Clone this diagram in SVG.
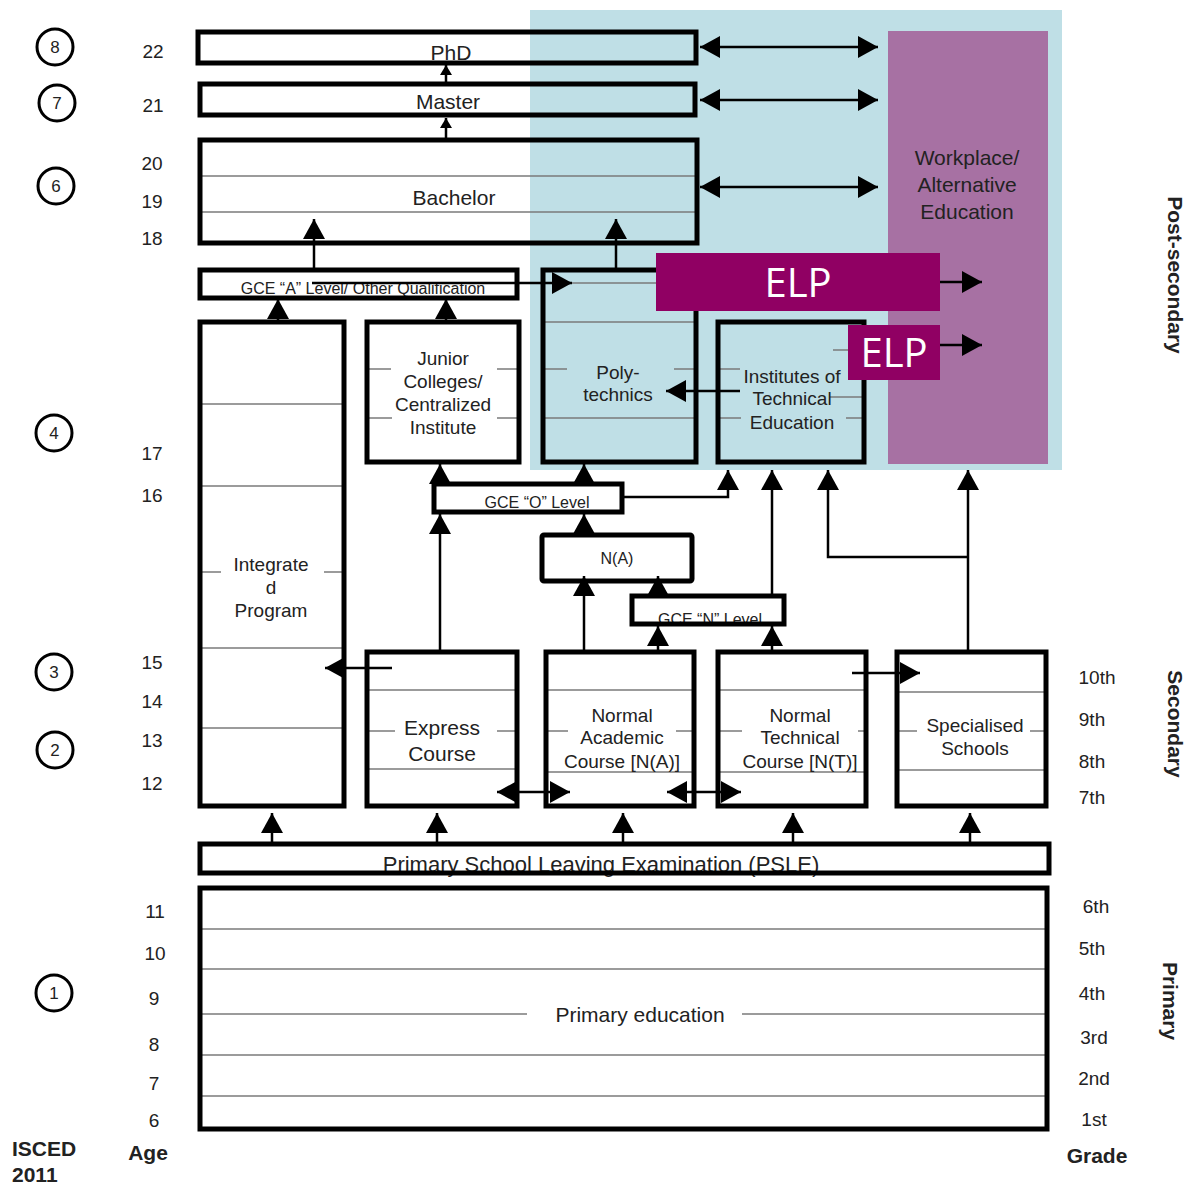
<svg xmlns="http://www.w3.org/2000/svg" width="1190" height="1185" viewBox="0 0 1190 1185">
<style>
text{font-family:"Liberation Sans",Arial,sans-serif;fill:#222}
.box{fill:none;stroke:#000;stroke-width:5}
.thin{stroke:#7a7a7a;stroke-width:1.5;fill:none}
.c{stroke:#000;stroke-width:2.5;fill:none}
.t19{font-size:19px;text-anchor:middle}
.t21{font-size:21px;text-anchor:middle}
.t16{font-size:16px;text-anchor:middle}
.age{font-size:19px;text-anchor:middle}
.bold{font-weight:bold;font-size:21px}
.isc{fill:#fff;stroke:#000;stroke-width:3}
.elp{font-family:"Open Sans","Liberation Sans",sans-serif;font-size:40px;fill:#fff;text-anchor:middle}
</style>
<defs>
<marker id="ah" viewBox="0 0 20 22" refX="20" refY="11" markerWidth="20" markerHeight="22" markerUnits="userSpaceOnUse" orient="auto-start-reverse"><path d="M0,0 L20,11 L0,22 z" fill="#000"/></marker>
<marker id="ahs" viewBox="0 0 10 12" refX="10" refY="6" markerWidth="10" markerHeight="12" markerUnits="userSpaceOnUse" orient="auto-start-reverse"><path d="M0,0 L10,6 L0,12 z" fill="#000"/></marker>
</defs>
<rect width="1190" height="1185" fill="#fff"/>
<g id="post-secondary-bg">
<rect x="530" y="10" width="532" height="460" fill="#bfdfe6"/>
</g>
<g id="workplace">
<rect x="888" y="31" width="160" height="433" fill="#a771a3"/>
<text class="t21" x="967" y="165">Workplace/</text>
<text class="t21" x="967" y="192">Alternative</text>
<text class="t21" x="967" y="219">Education</text>
</g>
<g id="isced">
<circle class="isc" cx="55" cy="47" r="18"/><text x="55" y="53" font-size="17" text-anchor="middle">8</text>
<circle class="isc" cx="57" cy="103" r="18"/><text x="57" y="109" font-size="17" text-anchor="middle">7</text>
<circle class="isc" cx="56" cy="186" r="18"/><text x="56" y="192" font-size="17" text-anchor="middle">6</text>
<circle class="isc" cx="54" cy="433" r="18"/><text x="54" y="439" font-size="17" text-anchor="middle">4</text>
<circle class="isc" cx="54" cy="672" r="18"/><text x="54" y="678" font-size="17" text-anchor="middle">3</text>
<circle class="isc" cx="55" cy="750" r="18"/><text x="55" y="756" font-size="17" text-anchor="middle">2</text>
<circle class="isc" cx="54" cy="993" r="18"/><text x="54" y="999" font-size="17" text-anchor="middle">1</text>
<text class="bold" x="12" y="1156">ISCED</text>
<text class="bold" x="12" y="1182">2011</text>
</g>
<g id="ages">
<text class="age" x="153" y="58">22</text>
<text class="age" x="153" y="112">21</text>
<text class="age" x="152" y="170">20</text>
<text class="age" x="152" y="208">19</text>
<text class="age" x="152" y="245">18</text>
<text class="age" x="152" y="460">17</text>
<text class="age" x="152" y="502">16</text>
<text class="age" x="152" y="669">15</text>
<text class="age" x="152" y="708">14</text>
<text class="age" x="152" y="747">13</text>
<text class="age" x="152" y="790">12</text>
<text class="age" x="155" y="918">11</text>
<text class="age" x="155" y="960">10</text>
<text class="age" x="154" y="1005">9</text>
<text class="age" x="154" y="1051">8</text>
<text class="age" x="154" y="1090">7</text>
<text class="age" x="154" y="1127">6</text>
<text class="bold" x="148" y="1160" text-anchor="middle">Age</text>
</g>
<g id="grades">
<text class="age" x="1097" y="684">10th</text>
<text class="age" x="1092" y="726">9th</text>
<text class="age" x="1092" y="768">8th</text>
<text class="age" x="1092" y="804">7th</text>
<text class="age" x="1096" y="913">6th</text>
<text class="age" x="1092" y="955">5th</text>
<text class="age" x="1092" y="1000">4th</text>
<text class="age" x="1094" y="1044">3rd</text>
<text class="age" x="1094" y="1085">2nd</text>
<text class="age" x="1094" y="1126">1st</text>
<text class="bold" x="1097" y="1163" text-anchor="middle">Grade</text>
</g>
<g id="levels">
<text class="bold" font-size="22" text-anchor="middle" transform="translate(1168,275) rotate(90)">Post-secondary</text>
<text class="bold" font-size="22" text-anchor="middle" transform="translate(1168,724) rotate(90)">Secondary</text>
<text class="bold" font-size="22" text-anchor="middle" transform="translate(1163,1001) rotate(90)">Primary</text>
</g>
<g id="phd">
<text class="t21" x="451" y="60">PhD</text>
<rect class="box" x="198" y="32" width="498" height="31"/>
</g>
<g id="master">
<text class="t21" x="448" y="109">Master</text>
<rect class="box" x="200" y="84" width="495" height="31"/>
</g>
<g id="bachelor">
<line class="thin" x1="200" y1="176" x2="697" y2="176"/>
<line class="thin" x1="200" y1="212" x2="697" y2="212"/>
<text class="t21" x="454" y="205">Bachelor</text>
<rect class="box" x="200" y="140" width="497" height="103"/>
</g>
<g id="gce-a">
<text class="t16" x="363" y="294">GCE “A” Level/ Other Qualification</text>
<rect class="box" x="200" y="270" width="317" height="28" stroke-width="4"/>
</g>
<g id="integrated">
<line class="thin" x1="200" y1="404" x2="344" y2="404"/>
<line class="thin" x1="200" y1="486" x2="344" y2="486"/>
<line class="thin" x1="200" y1="648" x2="344" y2="648"/>
<line class="thin" x1="200" y1="728" x2="344" y2="728"/>
<line class="thin" x1="200" y1="572" x2="221" y2="572"/>
<line class="thin" x1="324" y1="572" x2="344" y2="572"/>
<text class="t19" x="271" y="571">Integrate</text>
<text class="t19" x="271" y="594">d</text>
<text class="t19" x="271" y="617">Program</text>
<rect class="box" x="200" y="322" width="144" height="484"/>
</g>
<g id="junior-colleges">
<line class="thin" x1="367" y1="369" x2="391" y2="369"/>
<line class="thin" x1="497" y1="369" x2="519" y2="369"/>
<line class="thin" x1="367" y1="418" x2="392" y2="418"/>
<line class="thin" x1="497" y1="418" x2="519" y2="418"/>
<text class="t19" x="443" y="365">Junior</text>
<text class="t19" x="443" y="388">Colleges/</text>
<text class="t19" x="443" y="411">Centralized</text>
<text class="t19" x="443" y="434">Institute</text>
<rect class="box" x="367" y="322" width="152" height="140"/>
</g>
<g id="polytechnics">
<line class="thin" x1="543" y1="322" x2="696" y2="322"/>
<line class="thin" x1="543" y1="418" x2="696" y2="418"/>
<line class="thin" x1="543" y1="369" x2="567" y2="369"/>
<line class="thin" x1="674" y1="369" x2="696" y2="369"/>
<text class="t19" x="618" y="379">Poly-</text>
<text class="t19" x="618" y="401">technics</text>
<rect class="box" x="543" y="270" width="153" height="192"/>
</g>
<g id="ite">
<line class="thin" x1="718" y1="369" x2="740" y2="369"/>
<line class="thin" x1="718" y1="418" x2="741" y2="418"/>
<line class="thin" x1="830" y1="397" x2="864" y2="397"/>
<line class="thin" x1="846" y1="418" x2="864" y2="418"/>
<text class="t19" x="792" y="383">Institutes of</text>
<text class="t19" x="792" y="405">Technical</text>
<text class="t19" x="792" y="429">Education</text>
<rect class="box" x="718" y="322" width="146" height="140"/>
</g>
<g id="gce-o">
<text class="t16" x="537" y="508">GCE “O” Level</text>
<rect class="box" x="434" y="484" width="188" height="28" stroke-width="4"/>
</g>
<g id="na">
<text class="t16" x="617" y="564" font-size="15">N(A)</text>
<rect class="box" x="542" y="535" width="150" height="46" rx="2"/>
</g>
<g id="gce-n">
<text class="t16" x="710" y="625">GCE “N” Level</text>
<rect class="box" x="632" y="596" width="152" height="28" stroke-width="4"/>
</g>
<g id="express">
<line class="thin" x1="367" y1="690" x2="517" y2="690"/>
<line class="thin" x1="367" y1="769" x2="517" y2="769"/>
<line class="thin" x1="367" y1="731" x2="395" y2="731"/>
<line class="thin" x1="497" y1="731" x2="517" y2="731"/>
<text class="t21" x="442" y="735">Express</text>
<text class="t21" x="442" y="761">Course</text>
<rect class="box" x="367" y="652" width="150" height="154"/>
</g>
<g id="normal-academic">
<line class="thin" x1="546" y1="690" x2="694" y2="690"/>
<line class="thin" x1="546" y1="772" x2="694" y2="772"/>
<line class="thin" x1="546" y1="731" x2="568" y2="731"/>
<line class="thin" x1="676" y1="731" x2="694" y2="731"/>
<text class="t19" x="622" y="722">Normal</text>
<text class="t19" x="622" y="744">Academic</text>
<text class="t19" x="622" y="768">Course [N(A)]</text>
<rect class="box" x="546" y="652" width="148" height="154"/>
</g>
<g id="normal-technical">
<line class="thin" x1="718" y1="690" x2="866" y2="690"/>
<line class="thin" x1="718" y1="772" x2="866" y2="772"/>
<line class="thin" x1="718" y1="731" x2="742" y2="731"/>
<line class="thin" x1="858" y1="731" x2="866" y2="731"/>
<text class="t19" x="800" y="722">Normal</text>
<text class="t19" x="800" y="744">Technical</text>
<text class="t19" x="800" y="768">Course [N(T)]</text>
<rect class="box" x="718" y="652" width="148" height="154"/>
</g>
<g id="specialised">
<line class="thin" x1="897" y1="692" x2="1046" y2="692"/>
<line class="thin" x1="897" y1="770" x2="1046" y2="770"/>
<line class="thin" x1="897" y1="731" x2="917" y2="731"/>
<line class="thin" x1="1030" y1="731" x2="1046" y2="731"/>
<text class="t19" x="975" y="732">Specialised</text>
<text class="t19" x="975" y="755">Schools</text>
<rect class="box" x="897" y="652" width="149" height="154"/>
</g>
<g id="psle">
<text x="601" y="872" font-size="22" text-anchor="middle">Primary School Leaving Examination (PSLE)</text>
<rect class="box" x="200" y="844" width="849" height="29"/>
</g>
<g id="primary">
<line class="thin" x1="200" y1="929" x2="1047" y2="929"/>
<line class="thin" x1="200" y1="969" x2="1047" y2="969"/>
<line class="thin" x1="200" y1="1014" x2="527" y2="1014"/>
<line class="thin" x1="742" y1="1014" x2="1047" y2="1014"/>
<line class="thin" x1="200" y1="1055" x2="1047" y2="1055"/>
<line class="thin" x1="200" y1="1096" x2="1047" y2="1096"/>
<text class="t21" x="640" y="1022">Primary education</text>
<rect class="box" x="200" y="888" width="847" height="241"/>
</g>
<g id="connectors">
<line class="c" x1="446" y1="84" x2="446" y2="65" marker-end="url(#ahs)"/>
<line class="c" x1="446" y1="140" x2="446" y2="118" marker-end="url(#ahs)"/>
<line class="c" x1="314" y1="270" x2="314" y2="219" marker-end="url(#ah)"/>
<line class="c" x1="616" y1="270" x2="616" y2="219" marker-end="url(#ah)"/>
<line class="c" x1="700" y1="47" x2="878" y2="47" marker-start="url(#ah)" marker-end="url(#ah)"/>
<line class="c" x1="700" y1="100" x2="878" y2="100" marker-start="url(#ah)" marker-end="url(#ah)"/>
<line class="c" x1="700" y1="187" x2="878" y2="187" marker-start="url(#ah)" marker-end="url(#ah)"/>
<line class="c" x1="278" y1="321" x2="278" y2="299" marker-end="url(#ah)"/>
<line class="c" x1="446" y1="321" x2="446" y2="299" marker-end="url(#ah)"/>
<line class="c" x1="312" y1="283" x2="572" y2="283" stroke-width="2" marker-end="url(#ah)"/>
<line class="thin" x1="572" y1="283" x2="658" y2="283"/>
<line class="c" x1="740" y1="391" x2="666" y2="391" marker-end="url(#ah)"/>
<line class="thin" x1="833" y1="350" x2="850" y2="350"/>
<line class="c" x1="940" y1="282" x2="982" y2="282" marker-end="url(#ah)"/>
<line class="c" x1="940" y1="345" x2="982" y2="345" marker-end="url(#ah)"/>
<line class="c" x1="440" y1="484" x2="440" y2="464" marker-end="url(#ah)"/>
<line class="c" x1="584" y1="484" x2="584" y2="464" marker-end="url(#ah)"/>
<polyline class="c" points="624,497 728,497 728,470" marker-end="url(#ah)"/>
<line class="c" x1="772" y1="596" x2="772" y2="470" marker-end="url(#ah)"/>
<line class="c" x1="968" y1="650" x2="968" y2="470" marker-end="url(#ah)"/>
<polyline class="c" points="968,557 828,557 828,470" marker-end="url(#ah)"/>
<line class="c" x1="440" y1="650" x2="440" y2="514" marker-end="url(#ah)"/>
<line class="c" x1="584" y1="535" x2="584" y2="514" marker-end="url(#ah)"/>
<line class="c" x1="584" y1="650" x2="584" y2="576" marker-end="url(#ah)"/>
<line class="c" x1="658" y1="596" x2="658" y2="576" marker-end="url(#ah)"/>
<line class="c" x1="658" y1="650" x2="658" y2="626" marker-end="url(#ah)"/>
<line class="c" x1="772" y1="650" x2="772" y2="626" marker-end="url(#ah)"/>
<line class="c" x1="392" y1="668" x2="325" y2="668" marker-end="url(#ah)"/>
<line class="c" x1="852" y1="673" x2="920" y2="673" marker-end="url(#ah)"/>
<line class="c" x1="497" y1="792" x2="570" y2="792" marker-start="url(#ah)" marker-end="url(#ah)"/>
<line class="c" x1="667" y1="792" x2="741" y2="792" marker-start="url(#ah)" marker-end="url(#ah)"/>
<line class="c" x1="272" y1="844" x2="272" y2="813" marker-end="url(#ah)"/>
<line class="c" x1="437" y1="844" x2="437" y2="813" marker-end="url(#ah)"/>
<line class="c" x1="623" y1="844" x2="623" y2="813" marker-end="url(#ah)"/>
<line class="c" x1="793" y1="844" x2="793" y2="813" marker-end="url(#ah)"/>
<line class="c" x1="970" y1="844" x2="970" y2="813" marker-end="url(#ah)"/>
</g>
<g id="elp-main">
<rect x="656" y="253" width="284" height="58" fill="#900063"/>
<text class="elp" x="798" y="297">ELP</text>
</g>
<g id="elp-ite">
<rect x="848" y="325" width="92" height="55" fill="#900063"/>
<text class="elp" x="894" y="367">ELP</text>
</g>
</svg>
